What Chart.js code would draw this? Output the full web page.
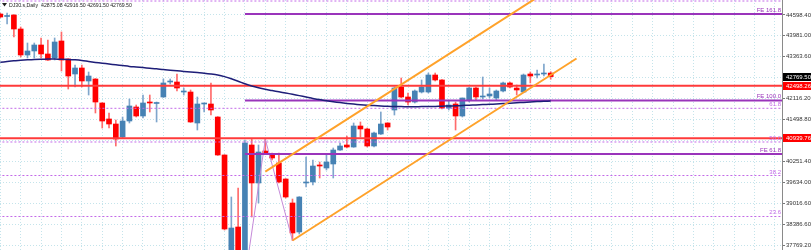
<!DOCTYPE html>
<html>
<head>
<meta charset="utf-8">
<script src="https://cdn.jsdelivr.net/npm/chart.js@4.4.1/dist/chart.umd.min.js"></script>
<style>
html, body { margin: 0; padding: 0; background: #fff; }
#wrap { width: 811px; height: 250px; }
</style>
</head>
<body>
<div id="wrap"><canvas id="chart" width="811" height="250"></canvas></div>
<script>
// DJ30.s daily candles, oldest first
const opens = [44628, 44554, 44598, 44183, 43411, 43530, 43708, 43441, 43322, 43827,
  43292, 42847, 43025, 42639, 42698, 41986, 41511, 41362, 40976, 41451,
  41867, 41600, 42015, 41971, 42164, 42609, 42609, 42312, 42312, 41392,
  41956, 41956, 41570, 40442, 37265, 38304, 37384, 40739, 39611, 40561,
  40442, 40204, 39729, 39017, 38156, 39611, 39640, 40145, 40056, 40175,
  40590, 40739, 40679, 41303, 41214, 40709, 41065, 41392, 41778, 42461,
  42164, 42015, 42312, 42312, 42817, 42669, 41837, 41956, 41600, 42075,
  42431, 42164, 42194, 42134, 42342, 42580, 42431, 42312, 42847, 42817,
  42847, 42875.08];
const highs = [44658, 44658, 44610, 44242, 43767, 43767, 43916, 43856, 43916, 44094,
  43300, 43114, 43114, 42906, 42710, 41995, 41689, 41481, 41570, 42104,
  41926, 42223, 42223, 42015, 42698, 42698, 42847, 42431, 42372, 42164,
  41986, 42580, 41580, 40450, 39195, 39462, 40887, 40917, 40739, 40908,
  40501, 40501, 39740, 39135, 39205, 40382, 40293, 40234, 40442, 40650,
  40798, 41006, 41392, 41422, 41243, 41125, 41719, 41400, 42461, 42728,
  42283, 42372, 42669, 42876, 42876, 42680, 42045, 42015, 42134, 42461,
  42461, 42758, 42431, 42372, 42609, 42609, 42520, 42847, 42906, 42966,
  43144, 42916.50];
const lows = [44509, 44331, 43945, 43351, 43322, 43322, 43322, 43250, 43262, 42936,
  42401, 42461, 42461, 42223, 41689, 41243, 41243, 40709, 40947, 41392,
  41570, 41540, 41719, 41422, 42150, 42550, 42342, 42223, 41410, 41184,
  41719, 41629, 40430, 38215, 37087, 37265, 36760, 38601, 39017, 40490,
  40293, 39611, 39165, 37903, 38096, 39492, 39551, 39759, 39997, 39759,
  40580, 40650, 40670, 40976, 40679, 40679, 41050, 41184, 41629, 42134,
  41926, 41986, 42283, 42283, 42639, 41808, 41778, 41184, 41570, 42015,
  42075, 42104, 42134, 42075, 42312, 42431, 42223, 42300, 42580, 42728,
  42787, 42691.50];
const closes = [44539, 44584, 44183, 43411, 43530, 43708, 43441, 43262, 43797, 43262,
  42787, 43025, 42639, 42787, 42015, 41451, 41362, 40917, 41451, 41897,
  41600, 41986, 41986, 42001, 42580, 42639, 42431, 42342, 41422, 41956,
  41986, 41778, 40442, 38245, 38274, 37384, 40798, 39611, 40531, 40501,
  40353, 39640, 39195, 38126, 39195, 39640, 40115, 40115, 40234, 40590,
  40709, 40679, 41303, 41214, 40709, 41095, 41362, 41273, 42431, 42164,
  42015, 42342, 42461, 42817, 42669, 41837, 41926, 41600, 42134, 42431,
  42164, 42194, 42253, 42342, 42580, 42461, 42372, 42817, 42787, 42847,
  42876, 42769.50];

// moving average, one value per bar
const maValues = [43194, 43218, 43239, 43253, 43268, 43280, 43286, 43289, 43289, 43286,
  43280, 43268, 43248, 43218, 43191, 43167, 43144, 43120, 43096, 43072,
  43055, 43037, 43019, 43001, 42977, 42960, 42942, 42924, 42906, 42888,
  42870, 42847, 42817, 42769, 42704, 42633, 42556, 42490, 42437, 42392,
  42354, 42318, 42283, 42244, 42205, 42164, 42122, 42087, 42054, 42024,
  41998, 41974, 41953, 41935, 41920, 41908, 41897, 41888, 41882, 41879,
  41876, 41876, 41879, 41882, 41885, 41891, 41897, 41903, 41911, 41920,
  41929, 41938, 41947, 41956, 41968, 41980, 41992, 42003, 42015, 42027,
  42036, 42045];

// price scale labels
const yTicks = [44598.40, 43981.00, 43363.60, 42746.20, 42116.20, 41498.80,
  40881.40, 40251.40, 39634.00, 39016.60, 38386.60, 37769.20];

// horizontal red levels
const redLevels = [42498.26, 40939.76];

// fibo expansion (starts at bar 36)
const feLabels = ['FE 161.8', 'FE 100.0', 'FE 61.8'];
const feLevels = [44628, 42060, 40471];
const feStartBar = 36;
const zigBars = [36, 39, 43];
const zigPrices = [36760, 40908, 37903];

// fibo retracement levels (dotted)
const fibLabels = ['100.0', '61.8', '50.0', '38.2', '23.6'];
const fibLevels = [45014, 41828, 40828, 39833, 38616];

// equidistant channel
const chanLowBars = [43, 84.8];
const chanLowPrices = [37903, 43307];
const chanHighBars = [39, 80.8];
const chanHighPrices = [39946, 45351];

const title = 'DJ30.s,Daily  42875.08 42916.50 42691.50 42769.50';
const lastPrice = 42769.50;

const X_MIN = -0.044, X_MAX = 115.04;
const RED = '#ff0000', BLUE = '#4682b4';
const FONT = '"Liberation Sans", Arial, sans-serif';

const isUp = opens.map((o, i) => closes[i] >= o);
const bodyData = opens.map((o, i) => ({ x: i, y: [o, closes[i]] }));
const wickData = lows.map((l, i) => ({ x: i, y: [l, highs[i]] }));

function hline(v, x0, color, width, dash, order) {
  return {
    type: 'line', order: order,
    data: [{ x: x0, y: v }, { x: X_MAX + 2, y: v }],
    borderColor: color, borderWidth: width, borderDash: dash || [],
    pointRadius: 0, pointBorderWidth: 0, clip: 0
  };
}

const datasets = [];
// lines (drawn on top)
datasets.push({
  type: 'line', order: 1,
  data: maValues.map((v, i) => ({ x: i, y: v })),
  borderColor: '#1e1e78', borderWidth: 1.5, pointRadius: 0, pointBorderWidth: 0,
  tension: 0.3, clip: 0
});
redLevels.forEach(v => datasets.push(hline(v, X_MIN - 2, '#ff3a3a', 2, null, 2)));
feLevels.forEach(v => datasets.push(hline(v, feStartBar, '#9a34bb', 2, null, 2)));
fibLevels.forEach(v => datasets.push(hline(v, X_MIN - 2, '#c36ae8', 1, [2, 2], 3)));
datasets.push({
  type: 'line', order: 2,
  data: zigBars.map((b, i) => ({ x: b, y: zigPrices[i] })),
  borderColor: '#c58ad8', borderWidth: 1, pointRadius: 0, pointBorderWidth: 0, clip: 0
});
datasets.push({
  type: 'line', order: 0,
  data: chanLowBars.map((b, i) => ({ x: b, y: chanLowPrices[i] })),
  borderColor: '#ffa22a', borderWidth: 2, pointRadius: 0, pointBorderWidth: 0, clip: 0
});
datasets.push({
  type: 'line', order: 0,
  data: chanHighBars.map((b, i) => ({ x: b, y: chanHighPrices[i] })),
  borderColor: '#ffa22a', borderWidth: 2, pointRadius: 0, pointBorderWidth: 0, clip: 0
});
// candles
datasets.push({
  type: 'bar', order: 10, grouped: false,
  data: bodyData, barThickness: 5, minBarLength: 1,
  backgroundColor: isUp.map(u => u ? BLUE : RED), borderWidth: 0, clip: 0
});
datasets.push({
  type: 'bar', order: 11, grouped: false,
  data: wickData, barThickness: 1,
  backgroundColor: isUp.map(u => u ? '#7fa6cc' : '#ff6b6b'), borderWidth: 0, clip: 0
});

const overlay = {
  id: 'overlay',
  afterDraw(chart) {
    const ctx = chart.ctx;
    const ys = chart.scales.y;
    const area = chart.chartArea;
    ctx.save();
    ctx.font = '6px ' + FONT;
    ctx.textBaseline = 'alphabetic';
    ctx.textAlign = 'right';
    // level labels
    feLevels.forEach((v, i) => {
      ctx.fillStyle = '#9a34bb';
      ctx.fillText(feLabels[i], area.right - 1, ys.getPixelForValue(v) - 2);
    });
    fibLevels.forEach((v, i) => {
      ctx.fillStyle = '#c36ae8';
      ctx.fillText(fibLabels[i], area.right - 1, ys.getPixelForValue(v) - 2);
    });
    // price boxes on the axis
    const box = (v, bg) => {
      const y = Math.round(ys.getPixelForValue(v));
      ctx.fillStyle = bg;
      ctx.fillRect(area.right + 1, y - 4, 28, 8);
      ctx.fillStyle = '#fff';
      ctx.textAlign = 'left';
      ctx.textBaseline = 'middle';
      ctx.fillText(v.toFixed(2), area.right + 4, y + 0.5);
    };
    box(lastPrice, '#000');
    redLevels.forEach(v => box(v, '#ff0000'));
    // title
    ctx.fillStyle = '#222';
    ctx.beginPath();
    ctx.moveTo(2, 3); ctx.lineTo(7, 3); ctx.lineTo(4.5, 6.5); ctx.closePath();
    ctx.fill();
    ctx.font = '5.2px ' + FONT;
    ctx.textAlign = 'left';
    ctx.textBaseline = 'alphabetic';
    ctx.fillText(title, 9, 7);
    ctx.restore();
  }
};

new Chart(document.getElementById('chart'), {
  data: { datasets: datasets },
  options: {
    responsive: false,
    animation: false,
    devicePixelRatio: 1,
    layout: { padding: 0, autoPadding: false },
    plugins: { legend: { display: false }, tooltip: { enabled: false } },
    scales: {
      x: {
        type: 'linear', min: X_MIN, max: X_MAX, offset: false,
        ticks: { display: false },
        grid: { color: '#c4e4eb', drawTicks: false, offset: false },
        border: { display: false, dash: [1, 2] },
        afterBuildTicks: s => {
          const t = [];
          for (let i = 0; i <= 114; i += 3) t.push({ value: i });
          s.ticks = t;
        },
        afterFit: s => { s.height = 0; s.paddingLeft = 0; s.paddingRight = 0; }
      },
      y: {
        type: 'linear', position: 'right', min: 37621.25, max: 45043.75,
        ticks: {
          autoSkip: false, padding: 1, color: '#333',
          font: { family: FONT, size: 6 },
          callback: v => Number(v).toFixed(2)
        },
        grid: { color: '#c4e4eb', tickLength: 3, tickColor: '#777', tickBorderDash: [] },
        border: { display: true, color: '#8a8a8a', width: 1, dash: [1, 2] },
        afterBuildTicks: s => { s.ticks = yTicks.map(v => ({ value: v })); },
        afterFit: s => { s.width = 29; s.paddingTop = 0; s.paddingBottom = 0; }
      }
    }
  },
  plugins: [overlay]
});
</script>
</body>
</html>
